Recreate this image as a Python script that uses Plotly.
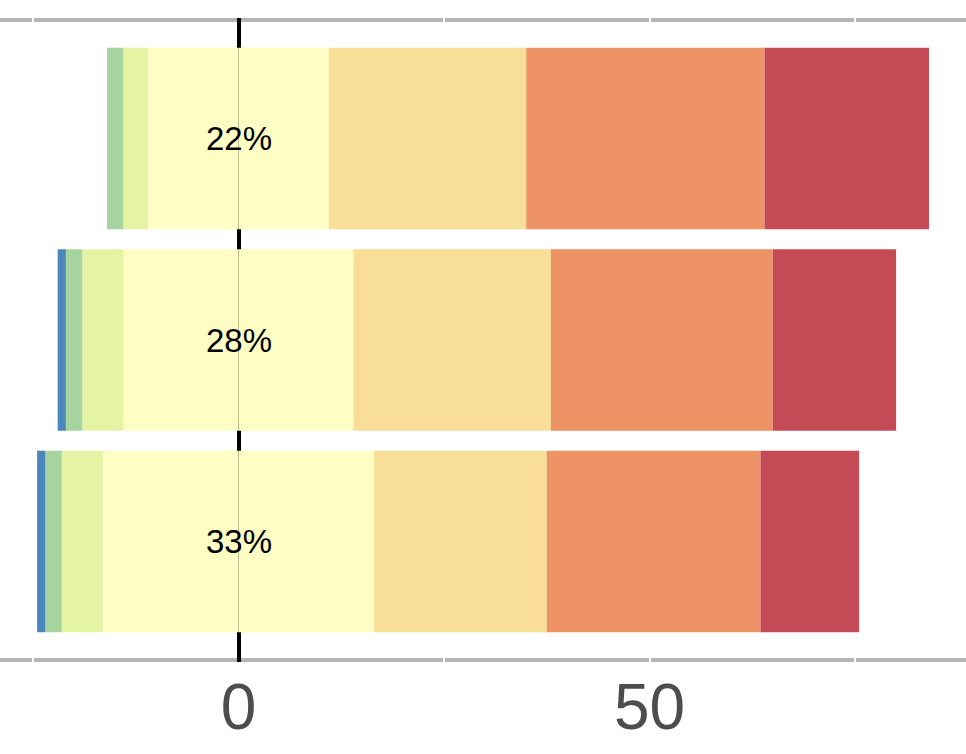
import plotly.graph_objects as go

# Data (percent of responses), top bar first
items = ["Item A", "Item B", "Item C"]
neutral_labels = ["22%", "28%", "33%"]
strongly_disagree = [0, 1, 1]      # blue
disagree = [2, 2, 2]               # green
somewhat_disagree = [3, 5, 5]      # light green
neutral = [22, 28, 33]             # pale yellow (split around 0)
somewhat_agree = [24, 24, 21]      # light orange
agree = [29, 27, 26]               # orange
strongly_agree = [20, 15, 12]      # red

x_tickvals = [-25, 0, 25, 50, 75]
x_ticktext = ["", "0", "", "50", ""]

colors = {
    "sd": "#4b87bd",
    "d": "#a5d49f",
    "swd": "#e5f3a5",
    "n": "#fefec4",
    "swa": "#f8de96",
    "a": "#ed9366",
    "sa": "#c44b55",
}

fig = go.Figure()

def add(vals, color, name, sign=1):
    fig.add_trace(go.Bar(
        y=items, x=[sign * v for v in vals], orientation="h",
        marker=dict(color=color, line=dict(width=0)),
        name=name, showlegend=False, hoverinfo="skip",
    ))

# negative side (stacked outward from 0)
add([v / 2 for v in neutral], colors["n"], "neutral_left", -1)
add(somewhat_disagree, colors["swd"], "somewhat disagree", -1)
add(disagree, colors["d"], "disagree", -1)
add(strongly_disagree, colors["sd"], "strongly disagree", -1)
# positive side
add([v / 2 for v in neutral], colors["n"], "neutral_right", 1)
add(somewhat_agree, colors["swa"], "somewhat agree", 1)
add(agree, colors["a"], "agree", 1)
add(strongly_agree, colors["sa"], "strongly agree", 1)

for it, lab in zip(items, neutral_labels):
    fig.add_annotation(x=0, y=it, text=lab, showarrow=False,
                       font=dict(size=33, color="black",
                                 family="Liberation Sans, Arial, sans-serif"))

# gray horizontal rules (top and bottom of panel)
plot_top, plot_bot = 18, 662
h = plot_bot - plot_top
for px in (20, 660):
    yp = (plot_bot - px) / h
    fig.add_shape(type="line", xref="paper", yref="paper", x0=0, x1=1,
                  y0=yp, y1=yp, line=dict(color="#b5b5b5", width=4),
                  layer="below")

unit = 201.5
fig.update_layout(
    width=966, height=754,
    margin=dict(l=0, r=0, t=plot_top, b=754 - plot_bot, pad=0, autoexpand=False),
    barmode="relative", bargap=0.1,
    paper_bgcolor="white", plot_bgcolor="rgba(0,0,0,0)",
    xaxis=dict(
        automargin=False,
        range=[-238.5 / 8.22, (966 - 238.5) / 8.22],
        tickvals=x_tickvals, ticktext=x_ticktext,
        showgrid=True, gridcolor="white", gridwidth=2,
        zeroline=True, zerolinecolor="black", zerolinewidth=3.5,
        showline=False, ticks="",
        tickfont=dict(size=64, color="#4d4d4d",
                      family="Liberation Sans, Arial, sans-serif"),
        ticklabelstandoff=2,
    ),
    yaxis=dict(
        automargin=False,
        categoryorder="array", categoryarray=items,
        range=[2 + (plot_bot - 541.5) / unit, -(138.5 - plot_top) / unit],
        showticklabels=False, showgrid=False, zeroline=False, ticks="",
    ),
)

fig.write_html("out.html")
